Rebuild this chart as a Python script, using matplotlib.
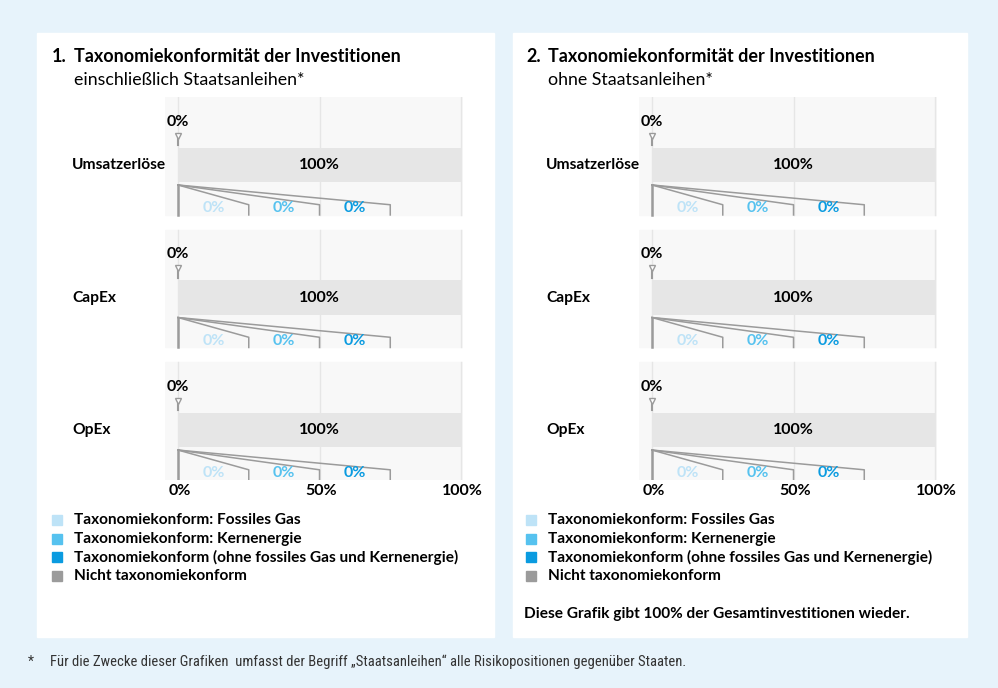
import matplotlib.pyplot as plt
from matplotlib.patches import Rectangle

# Daten
kategorien = ['Umsatzerlöse', 'CapEx', 'OpEx']
konform_gesamt = [0, 0, 0]
fossiles_gas = [0, 0, 0]
kernenergie = [0, 0, 0]
ohne_gas_kern = [0, 0, 0]
nicht_konform = [100, 100, 100]
x_ticks = [0, 50, 100]
x_tick_labels = ['0%', '50%', '100%']

titel = ['Taxonomiekonformität der Investitionen', 'Taxonomiekonformität der Investitionen']
untertitel = ['einschließlich Staatsanleihen*', 'ohne Staatsanleihen*']
legende = ['Taxonomiekonform: Fossiles Gas', 'Taxonomiekonform: Kernenergie',
           'Taxonomiekonform (ohne fossiles Gas und Kernenergie)', 'Nicht taxonomiekonform']

# Farben
hell = '#bee3f7'
mittel = '#56c2ef'
dunkel = '#0a9be0'
grau = '#9b9b9b'
farben = [hell, mittel, dunkel, grau]

plt.rcParams['font.family'] = ['Lato', 'DejaVu Sans']
W, H = 998, 688
fig = plt.figure(figsize=(W / 100, H / 100), dpi=100)
fig.patch.set_facecolor('#e7f3fb')

# Hintergrund-Achse in Pixelkoordinaten
bg = fig.add_axes([0, 0, 1, 1])
bg.set_xlim(0, W)
bg.set_ylim(H, 0)
bg.axis('off')
bg.set_zorder(-1)
bg.add_patch(Rectangle((37, 33), 457, 604, color='white'))
bg.add_patch(Rectangle((513, 33), 454, 604, color='white'))

for p, off in enumerate([0, 474]):
    bg.text(52 + off, 57, '1.' if p == 0 else '2.', fontsize=13, fontweight='bold', va='center')
    bg.text(74 + off, 57, titel[p], fontsize=13, fontweight='bold', va='center')
    bg.text(74 + off, 80, untertitel[p], fontsize=12.8, va='center')
    for j, lab in enumerate(legende):
        yy = 520 + j * 18.7
        bg.add_patch(Rectangle((52 + off, yy - 5), 10, 10, color=farben[j]))
        bg.text(74 + off, yy, lab, fontsize=11.1, fontweight='bold', va='center')

bg.text(524, 614, 'Diese Grafik gibt 100% der Gesamtinvestitionen wieder.',
        fontsize=11.1, fontweight='bold', va='center')
fuss = ['Liberation Sans Narrow', 'Roboto Condensed', 'DejaVu Sans']
bg.text(28, 662, '*', fontsize=10, color='#333333', va='center', family=fuss, stretch='condensed')
bg.text(50, 662, 'Für die Zwecke dieser Grafiken  umfasst der Begriff „Staatsanleihen“ alle Risikopositionen gegenüber Staaten.',
        fontsize=10.5, color='#333333', va='center', family=fuss, stretch='condensed')

# Diagramme
y = list(range(len(kategorien)))
for p, off in enumerate([0, 474]):
    ax = fig.add_axes([(165 + off) / W, 1 - 480 / H, 298 / W, 383 / H])
    ax.set_xlim(-4.6, 100.7)
    ax.set_ylim(2.377, -0.513)
    ax.axis('off')
    for i in y:
        ax.add_patch(Rectangle((-4.6, i - 0.513), 105.3, 0.89, color='#f8f8f8', zorder=0))
        for xt in x_ticks:
            ax.plot([xt, xt], [i - 0.513, i + 0.377], color='#e6e6e6', lw=1, zorder=1)
    # nicht konform
    ax.barh(y, nicht_konform, height=0.257, color='#e6e6e6', zorder=2)
    for i in y:
        ax.text(-37.5, i, kategorien[i], fontsize=11.2, fontweight='bold', va='center',
                clip_on=False, zorder=5)
        ax.text(nicht_konform[i] / 2, i, f'{nicht_konform[i]}%', ha='center', va='center',
                fontsize=11.5, fontweight='bold', zorder=3)
        # konform gesamt (kleiner Marker)
        ax.plot([konform_gesamt[i], konform_gesamt[i]], [i - 0.2, i - 0.15], color=grau, lw=1.5, zorder=3)
        ax.plot(konform_gesamt[i], i - 0.22, marker='v', ms=4, mfc='white', mec=grau, zorder=3)
        ax.text(konform_gesamt[i], i - 0.325, f'{konform_gesamt[i]}%', ha='center', va='center',
                fontsize=11.5, fontweight='bold', zorder=3)
        # Aufteilung
        ax.plot([0, 0], [i + 0.151, i + 0.377], color=grau, lw=1.8, zorder=3)
        for j, (werte, c) in enumerate([(fossiles_gas, hell), (kernenergie, mittel), (ohne_gas_kern, dunkel)]):
            ende = 25 * (j + 1)
            ax.barh(i + 0.3, werte[i], height=0.1, color=c, zorder=3)
            ax.plot([0, ende, ende], [i + 0.151, i + 0.3, i + 0.377], color=grau, lw=1.1, zorder=3)
            ax.text(ende - 12.5, i + 0.325, f'{werte[i]}%', ha='center', va='center', color=c,
                    fontsize=11.5, fontweight='bold', zorder=4)
    for xt, lab in zip(x_ticks, x_tick_labels):
        ax.text(xt + 0.6, 2.377 + 0.085, lab, ha='center', va='center', fontsize=11.5,
                fontweight='bold', clip_on=False)

fig.savefig('out.png', dpi=100)
